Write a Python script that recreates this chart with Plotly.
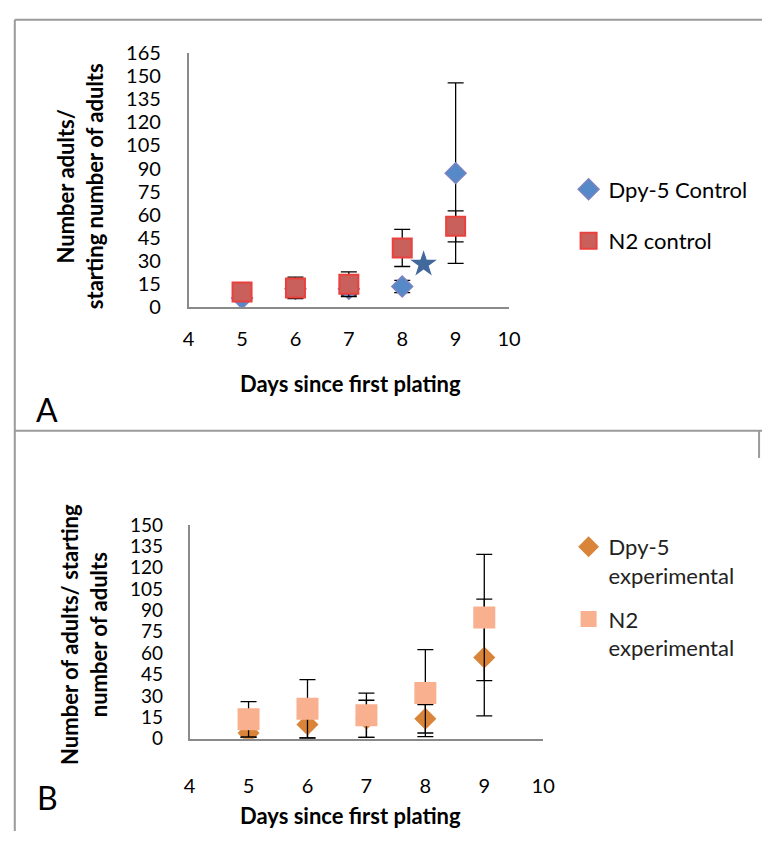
import plotly.graph_objects as go

# ---------------- data ----------------
days = [5, 6, 7, 8, 9]
x_ticks = [4, 5, 6, 7, 8, 9, 10]

# Panel A (controls)
dpy5_ctrl = [6, 12, 12, 13.5, 87]
dpy5_ctrl_err = [2, 3, 4, 4, 58.5]
n2_ctrl = [10, 12.6, 15, 38.5, 52.5]
n2_ctrl_err = [2, 7, 8, 12, 10]
star_x = [8.4]
star_y = [28]
ticks_a = list(range(0, 166, 15))

# Panel B (experimental)
dpy5_exp = [4, 10, 14, 14, 57]
dpy5_exp_err = [3, 9.5, 13, 10, 41]
n2_exp = [13.6, 21, 16.5, 32, 85]
n2_exp_err = [12.4, 20.5, 15.5, 30.5, 44.3]
ticks_b = list(range(0, 151, 15))

W, H = 774, 842
FONT = "Lato"


def px(x):
    return x / W


def py(y):
    return 1 - y / H


fig = go.Figure()

err_style = dict(type="data", symmetric=True, color="black", thickness=1.3, width=8)

# ---- Panel A ----
fig.add_trace(go.Scatter(
    x=days, y=dpy5_ctrl, mode="markers", name="Dpy-5 Control",
    xaxis="x", yaxis="y", legend="legend", legendgroup="a1",
    marker=dict(symbol="diamond", size=16, color="#5589c8",
                line=dict(color="#7b82c0", width=1.5)),
    error_y=dict(array=dpy5_ctrl_err, **err_style),
))
fig.add_trace(go.Scatter(
    x=days, y=n2_ctrl, mode="markers", name="N2 control",
    xaxis="x", yaxis="y", legend="legend", legendgroup="a2",
    marker=dict(symbol="square", size=19, color="#c9605b",
                line=dict(color="#e8413e", width=2)),
    error_y=dict(array=n2_ctrl_err, **err_style),
))
fig.add_trace(go.Scatter(
    x=star_x, y=star_y, mode="markers", showlegend=False,
    xaxis="x", yaxis="y",
    marker=dict(symbol="star", size=20, color="#41699b"),
))

# ---- Panel B ----
fig.add_trace(go.Scatter(
    x=days, y=dpy5_exp, mode="markers", name="Dpy-5<br>experimental",
    xaxis="x2", yaxis="y2", legend="legend2", legendgroup="b1",
    marker=dict(symbol="diamond", size=17, color="#d98438",
                line=dict(color="#d98438", width=0)),
    error_y=dict(array=dpy5_exp_err, **err_style),
))
fig.add_trace(go.Scatter(
    x=days, y=n2_exp, mode="markers", name="N2<br>experimental",
    xaxis="x2", yaxis="y2", legend="legend2", legendgroup="b2",
    marker=dict(symbol="square", size=22, color="#f8b08e",
                line=dict(color="#f8b08e", width=0)),
    error_y=dict(array=n2_exp_err, **err_style),
))

axis_line = dict(showline=True, linecolor="#8a8a8a", linewidth=1.5,
                 showgrid=False, zeroline=False, ticks="outside",
                 tickcolor="rgba(0,0,0,0)", fixedrange=True)

fig.update_layout(
    width=W, height=H,
    margin=dict(l=0, r=0, t=0, b=0),
    paper_bgcolor="white", plot_bgcolor="white",
    font=dict(family=FONT, color="black"),
    xaxis=dict(domain=[px(187), px(515)], range=[4, 10], anchor="y",
               tickvals=x_ticks, ticklen=13, tickfont=dict(size=20, family=FONT),
               **axis_line),
    yaxis=dict(domain=[py(303), py(41)], range=[0, 165], anchor="x",
               tickvals=ticks_a, ticklen=22, tickfont=dict(size=20, family=FONT),
               **axis_line),
    xaxis2=dict(domain=[px(188), px(550)], range=[4, 10], anchor="y2",
                tickvals=x_ticks, ticklen=29, tickfont=dict(size=20, family=FONT),
                **axis_line),
    yaxis2=dict(domain=[py(747), py(527)], range=[0, 150], anchor="x2",
                tickvals=ticks_b, ticklen=21, tickfont=dict(size=19, family=FONT),
                **axis_line),
    legend=dict(x=px(576), y=py(160), xanchor="left", yanchor="top",
                font=dict(size=22, family=FONT), bgcolor="rgba(0,0,0,0)",
                tracegroupgap=20, traceorder="grouped"),
    legend2=dict(x=px(576), y=py(528), xanchor="left", yanchor="top",
                 font=dict(size=22, family=FONT, color="#222"), bgcolor="rgba(0,0,0,0)",
                 tracegroupgap=12, traceorder="grouped", valign="top"),
    showlegend=True,
)

# ---- text annotations ----
common = dict(xref="paper", yref="paper", showarrow=False,
              xanchor="center", yanchor="middle")
ann = [
    dict(text="<b>Days since first plating</b>", x=px(353), y=py(381),
         font=dict(size=22, family=FONT), **common),
    dict(text="<b>Days since first plating</b>", x=px(353), y=py(826),
         font=dict(size=22, family=FONT), **common),
    dict(text="<b>Number adults/<br>starting number of adults</b>",
         x=px(76), y=py(178), textangle=-90,
         font=dict(size=22, family=FONT), **common),
    dict(text="<b>Number of adults/ starting<br>number of adults</b>",
         x=px(80), y=py(640), textangle=-90,
         font=dict(size=22, family=FONT), **common),
    dict(text="A", x=px(42), y=py(408), font=dict(size=32, family=FONT), **common),
    dict(text="B", x=px(42), y=py(808), font=dict(size=32, family=FONT), **common),
]
fig.update_layout(annotations=ann)

# ---- panel borders ----
border = dict(color="#9a9a9a", width=2)
shapes = [
    dict(type="line", xref="paper", yref="paper", x0=px(9), x1=1, y0=py(7), y1=py(7), line=border),
    dict(type="line", xref="paper", yref="paper", x0=px(9), x1=px(9), y0=py(7), y1=0, line=border),
    dict(type="line", xref="paper", yref="paper", x0=px(9), x1=1, y0=py(430), y1=py(430), line=border),
    dict(type="line", xref="paper", yref="paper", x0=px(771), x1=px(771), y0=py(430), y1=py(458), line=border),
]
fig.update_layout(shapes=shapes)

fig.write_html("out.html")
